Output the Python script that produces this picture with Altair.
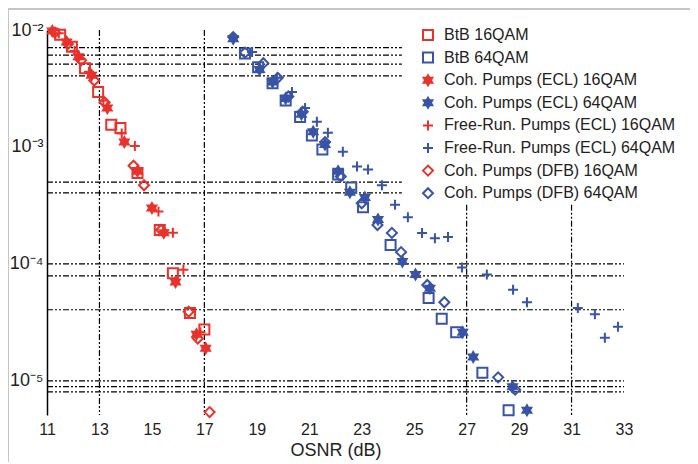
import altair as alt
import pandas as pd

RED = "#e8322b"
BLUE = "#3953a6"

series_names = [
    "BtB 16QAM", "BtB 64QAM",
    "Coh. Pumps (ECL) 16QAM", "Coh. Pumps (ECL) 64QAM",
    "Free-Run. Pumps (ECL) 16QAM", "Free-Run. Pumps (ECL) 64QAM",
    "Coh. Pumps (DFB) 16QAM", "Coh. Pumps (DFB) 64QAM",
]

btb16_osnr = [11.5, 11.95, 12.45, 12.95, 13.45, 13.8, 14.45, 15.3, 15.8, 16.45, 17.0]
btb16_ber = [9.1e-3, 7.2e-3, 4.7e-3, 2.95e-3, 1.55e-3, 1.45e-3, 6.0e-4, 1.95e-4, 8.3e-5, 3.8e-5, 2.75e-5]

btb64_osnr = [18.55, 19.05, 19.6, 20.1, 20.65, 21.1, 21.5, 22.1, 22.6, 23.05, 24.1, 25.55, 26.05, 26.6, 27.6, 28.6]
btb64_ber = [6.3e-3, 4.8e-3, 3.5e-3, 2.5e-3, 1.8e-3, 1.25e-3, 9.5e-4, 5.8e-4, 4.5e-4, 3.05e-4, 1.45e-4, 5.1e-5, 3.4e-5, 2.6e-5, 1.17e-5, 5.6e-6]

ecl16_osnr = [11.2, 11.75, 12.2, 12.7, 13.3, 13.95, 14.45, 15.0, 15.45, 15.9, 16.7, 17.05]
ecl16_ber = [9.8e-3, 7.9e-3, 5.9e-3, 4.1e-3, 2.15e-3, 1.1e-3, 6.2e-4, 3.0e-4, 1.85e-4, 7.0e-5, 2.5e-5, 1.9e-5]

ecl64_osnr = [18.1, 19.1, 19.6, 20.1, 20.7, 21.15, 21.6, 22.1, 22.55, 23.12, 23.62, 24.55, 25.05, 25.6, 26.85, 27.25, 28.75, 29.3]
ecl64_ber = [8.4e-3, 4.6e-3, 3.6e-3, 2.6e-3, 1.9e-3, 1.35e-3, 1.05e-3, 6.2e-4, 4.1e-4, 3.7e-4, 2.4e-4, 1.05e-4, 8.1e-5, 6.2e-5, 2.6e-5, 1.6e-5, 8.9e-6, 5.6e-6]

fr16_osnr = [11.45, 12.05, 12.6, 13.15, 13.85, 14.35, 15.25, 15.8, 16.2, 16.85]
fr16_ber = [9.4e-3, 6.6e-3, 4.4e-3, 2.5e-3, 1.3e-3, 1.02e-3, 2.8e-4, 1.85e-4, 8.9e-5, 2.6e-5]

fr64_osnr = [18.82, 19.77, 20.34, 20.84, 21.29, 21.71, 22.28, 22.82, 23.24, 23.77, 24.27, 24.76, 25.3, 25.79, 26.29,
             26.82, 27.77, 28.77, 29.3, 31.24, 31.89, 32.27, 32.77]
fr64_ber = [6.5e-3, 3.9e-3, 2.95e-3, 2.15e-3, 1.64e-3, 1.32e-3, 9.1e-4, 6.8e-4, 6.4e-4, 4.7e-4, 3.2e-4, 2.5e-4, 1.84e-4,
            1.66e-4, 1.7e-4, 9.3e-5, 8.1e-5, 6.0e-5, 4.7e-5, 4.2e-5, 3.7e-5, 2.34e-5, 2.9e-5]

dfb16_osnr = [11.3, 11.8, 12.3, 12.8, 13.2, 14.3, 14.7, 15.35, 16.4, 16.75, 17.2]
dfb16_ber = [9.5e-3, 7.6e-3, 5.5e-3, 3.7e-3, 2.4e-3, 6.9e-4, 4.7e-4, 1.95e-4, 3.9e-5, 2.3e-5, 5.4e-6]

dfb64_osnr = [18.1, 18.55, 19.25, 19.8, 20.2, 20.75, 21.6, 22.2, 23.0, 23.6, 24.15, 24.5, 25.5, 26.15, 28.2, 28.85]
dfb64_ber = [8.7e-3, 6.4e-3, 5.2e-3, 3.9e-3, 2.7e-3, 2.0e-3, 1.1e-3, 5.6e-4, 3.3e-4, 2.15e-4, 1.84e-4, 1.26e-4, 6.6e-5, 4.7e-5, 1.07e-5, 8.4e-6]

# grid lines (as drawn in the original figure)
hgrid_ber = [7.06e-3, 6.1e-3, 5.1e-3, 4.05e-3, 5.0e-4, 4.05e-4, 1e-4, 7.9e-5, 4.05e-5, 1e-5, 8.9e-6, 8.05e-6]
hgrid_xend = [24.53, 24.53, 24.53, 24.53, 24.53, 24.53, 33, 33, 33, 33, 33, 33]
vgrid_osnr = [13, 17, 27, 31]
vgrid_top = [1e-2, 1e-2, 3.2e-4, 3.2e-4]

X_TICKS = [11, 13, 15, 17, 19, 21, 23, 25, 27, 29, 31, 33]
Y_TICKS = [1e-2, 1e-3, 1e-4, 1e-5]
Y_MIN, Y_MAX = 5.1e-6, 1e-2

all_data = [
    (btb16_osnr, btb16_ber), (btb64_osnr, btb64_ber),
    (ecl16_osnr, ecl16_ber), (ecl64_osnr, ecl64_ber),
    (fr16_osnr, fr16_ber), (fr64_osnr, fr64_ber),
    (dfb16_osnr, dfb16_ber), (dfb64_osnr, dfb64_ber),
]
rows = []
for name, (xs, ys) in zip(series_names, all_data):
    for xv, yv in zip(xs, ys):
        rows.append({"series": name, "osnr": xv, "ber": yv})
df = pd.DataFrame(rows)

hdf = pd.DataFrame({"ber": hgrid_ber, "osnr": [11] * len(hgrid_ber), "x1": hgrid_xend})
vdf = pd.DataFrame({"osnr": vgrid_osnr, "ber": vgrid_top, "bot": [Y_MIN] * len(vgrid_osnr)})

HEX = ("M0,-1L0.289,-0.5L0.866,-0.5L0.577,0L0.866,0.5L0.289,0.5L0,1L-0.289,0.5"
       "L-0.866,0.5L-0.577,0L-0.866,-0.5L-0.289,-0.5Z")
PLUS = "M-1,0L1,0M0,-1L0,1"

shape_range = ["square", "square", HEX, HEX, PLUS, PLUS, "diamond", "diamond"]
stroke_range = [RED, BLUE] * 4
fill_range = ["transparent", "transparent", RED, BLUE, "transparent", "transparent", "transparent", "transparent"]

xscale = alt.Scale(domain=[11, 33], nice=False, zero=False)
yscale = alt.Scale(type="log", domain=[Y_MIN, Y_MAX], nice=False)

FONT = "Liberation Sans"
GRID_DASH = [6, 2, 2, 2, 2, 2]

label_expr = ("datum.value >= 0.005 ? '10\u207b\u00b2' : datum.value >= 0.0005 ? '10\u207b\u00b3' : "
              "datum.value >= 0.00005 ? '10\u207b\u2074' : '10\u207b\u2075'")

x_axis = alt.Axis(
    values=X_TICKS, title="OSNR (dB)", domain=False, ticks=False, grid=False, labelFlush=False,
    labelFontSize=16, labelPadding=6, labelFont=FONT, labelColor="#222",
    titleFont=FONT, titleFontSize=18, titleFontWeight="normal", titlePadding=4, titleColor="#222")
y_axis = alt.Axis(
    values=Y_TICKS, labelExpr=label_expr, title=None, domain=True, domainColor="black",
    domainWidth=1.5, ticks=False, grid=False, labelFontSize=18, labelFont=FONT,
    labelPadding=4, labelColor="#222")

X = alt.X("osnr:Q", scale=xscale, axis=x_axis)
Y = alt.Y("ber:Q", scale=yscale, axis=y_axis)

hgrid = alt.Chart(hdf).mark_rule(color="black", strokeWidth=1.2, strokeDash=GRID_DASH).encode(
    x=X, x2="x1:Q", y=Y)
vgrid = alt.Chart(vdf).mark_rule(color="black", strokeWidth=1.2, strokeDash=GRID_DASH).encode(
    x=X, y=Y, y2="bot:Q")

points = alt.Chart(df).mark_point(filled=True, size=100, strokeWidth=2, opacity=1).encode(
    x=X, y=Y,
    shape=alt.Shape("series:N", scale=alt.Scale(domain=series_names, range=shape_range), title=None),
    stroke=alt.Stroke("series:N", scale=alt.Scale(domain=series_names, range=stroke_range), title=None),
    fill=alt.Fill("series:N", scale=alt.Scale(domain=series_names, range=fill_range), title=None),
)

frame_top = alt.Chart(hdf).mark_rule(color="#c4c4c4", strokeWidth=1).encode(
    x=alt.value(-39), x2=alt.value(651), y=alt.value(-21))
frame_left = alt.Chart(hdf).mark_rule(color="#c4c4c4", strokeWidth=1).encode(
    x=alt.value(-39), y=alt.value(-21), y2=alt.value(434))

chart = alt.layer(hgrid, vgrid, points, frame_top, frame_left).properties(
    width=577, height=385,
    autosize=alt.AutoSizeParams(type="none"),
    padding={"left": 39, "top": 22, "right": 66, "bottom": 47},
).configure_view(stroke=None).configure_legend(
    orient="none", legendX=373, legendY=-3, fillColor="white", padding=0,
    rowPadding=4.6, labelFontSize=16, labelFont=FONT, labelColor="#222",
    symbolStrokeWidth=2, symbolSize=100, labelOffset=8, labelLimit=400,
)

chart.save("out.html", embed_options={"renderer": "svg", "actions": False})
